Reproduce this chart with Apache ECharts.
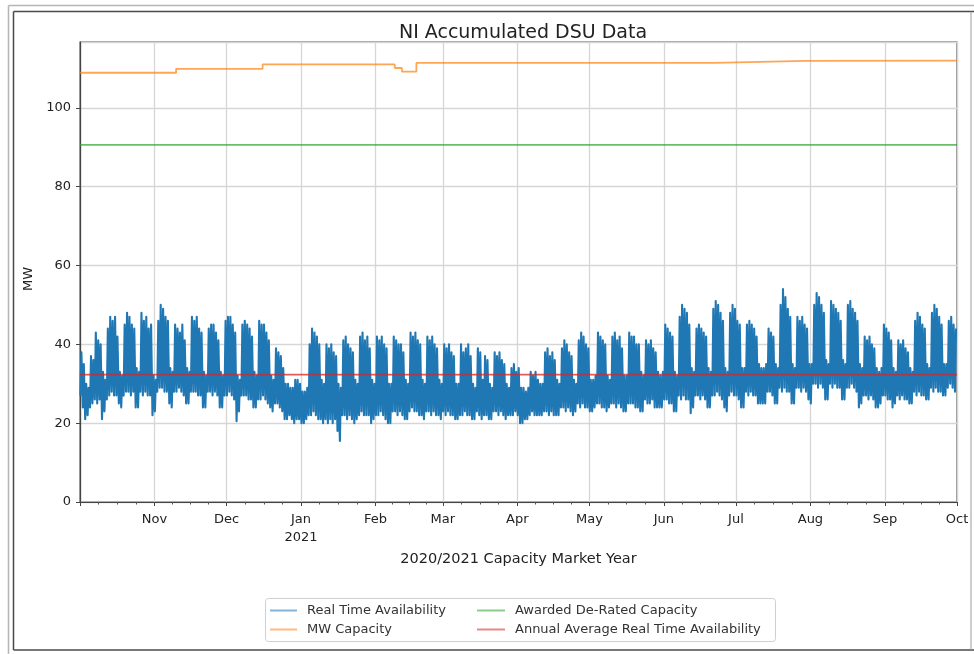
<!DOCTYPE html>
<html>
<head>
<meta charset="utf-8">
<script src="https://cdn.jsdelivr.net/npm/echarts@6/dist/echarts.min.js"></script>
<style>
  html, body { margin: 0; padding: 0; background: #fff; }
  #chart { width: 974px; height: 654px; }
</style>
</head>
<body>
<div id="chart"></div>
<script>
// Capacity market year: 1 Oct 2020 – 1 Oct 2021
const yearStart = [2020, 9, 1];
const yearEnd = [2021, 9, 1];

// Real time availability (MW): daily afternoon peaks, one row per week Mon..Sun,
// first row is the week of Monday 28 Sep 2020 (null = outside the year)
const dailyPeak = [
  [null, null, null, 38, 35, 30, 29],
  [37, 36, 43, 41, 40, 33, 31],
  [44, 47, 46, 47, 42, 33, 32],
  [45, 48, 47, 45, 44, 34, 33],
  [48, 46, 47, 44, 45, 32, 31],
  [46, 50, 49, 47, 46, 34, 33],
  [45, 44, 43, 45, 41, 34, 33],
  [47, 46, 47, 44, 43, 33, 32],
  [44, 45, 45, 43, 41, 33, 32],
  [46, 47, 47, 45, 43, 32, 31],
  [45, 46, 45, 44, 42, 33, 32],
  [46, 45, 45, 43, 41, 32, 31],
  [39, 38, 37, 34, 30, 30, 29],
  [29, 31, 31, 30, 28, 28, 29],
  [40, 44, 43, 42, 40, 31, 30],
  [40, 39, 40, 38, 37, 30, 29],
  [41, 42, 40, 39, 38, 31, 30],
  [42, 43, 41, 42, 39, 31, 30],
  [42, 41, 42, 40, 39, 30, 30],
  [42, 41, 40, 40, 38, 31, 30],
  [43, 42, 43, 41, 40, 31, 30],
  [42, 41, 42, 40, 39, 31, 30],
  [40, 39, 40, 38, 37, 30, 30],
  [40, 38, 39, 40, 37, 30, 29],
  [39, 38, 31, 37, 36, 30, 29],
  [38, 37, 38, 36, 35, 30, 29],
  [34, 35, 33, 34, 29, 29, 28],
  [29, 33, 32, 33, 31, 30, 30],
  [38, 39, 37, 38, 36, 31, 30],
  [39, 41, 40, 38, 37, 31, 30],
  [41, 43, 42, 40, 39, 31, 31],
  [32, 43, 42, 41, 40, 32, 31],
  [42, 43, 41, 42, 39, 32, 32],
  [43, 42, 42, 40, 40, 33, 32],
  [41, 40, 41, 39, 38, 33, 32],
  [33, 45, 44, 43, 42, 33, 32],
  [47, 50, 49, 48, 45, 34, 33],
  [44, 45, 44, 43, 42, 34, 33],
  [49, 51, 50, 48, 46, 34, 33],
  [48, 50, 49, 46, 45, 34, 34],
  [45, 46, 45, 44, 42, 35, 34],
  [34, 35, 44, 43, 42, 35, 34],
  [50, 54, 52, 49, 47, 35, 34],
  [47, 46, 47, 45, 44, 35, 35],
  [50, 53, 52, 50, 48, 36, 35],
  [51, 50, 49, 48, 46, 36, 35],
  [50, 51, 49, 48, 46, 35, 34],
  [42, 41, 42, 40, 39, 34, 33],
  [34, 45, 44, 43, 41, 34, 33],
  [41, 40, 41, 39, 38, 34, 33],
  [46, 48, 47, 45, 44, 35, 34],
  [48, 50, 49, 47, 45, 35, 35],
  [46, 47, 45, 44, null, null, null]
];

// Real time availability (MW): daily overnight troughs, same layout
const dailyTrough = [
  [null, null, null, 27, 24, 21, 22],
  [24, 25, 26, 25, 26, 21, 23],
  [26, 27, 28, 27, 27, 25, 24],
  [27, 28, 28, 27, 28, 24, 24],
  [28, 27, 28, 27, 27, 22, 23],
  [28, 29, 29, 28, 28, 25, 24],
  [28, 28, 29, 28, 27, 25, 25],
  [28, 28, 28, 27, 27, 24, 24],
  [28, 28, 27, 28, 27, 24, 24],
  [27, 27, 28, 27, 26, 20.5, 23],
  [27, 27, 27, 26, 26, 24, 24],
  [26, 26, 27, 26, 25, 24, 23],
  [25, 25, 24, 23, 21, 21, 22],
  [21, 20, 21, 21, 20, 20, 21],
  [22, 22, 23, 22, 21, 21, 20],
  [21, 20, 21, 20, 21, 18, 15.5],
  [22, 22, 21, 22, 21, 20, 21],
  [22, 23, 22, 22, 22, 20, 21],
  [22, 22, 23, 22, 21, 20, 20],
  [23, 23, 22, 23, 22, 21, 21],
  [23, 24, 23, 23, 22, 22, 21],
  [23, 23, 22, 23, 22, 22, 21],
  [23, 22, 23, 22, 22, 21, 21],
  [22, 22, 23, 22, 22, 21, 21],
  [23, 22, 21, 22, 22, 21, 21],
  [23, 23, 22, 23, 22, 21, 22],
  [22, 22, 23, 22, 20, 20, 21],
  [21, 22, 23, 22, 22, 22, 22],
  [23, 23, 22, 23, 22, 22, 22],
  [24, 24, 23, 24, 23, 22, 23],
  [25, 24, 25, 24, 24, 23, 23],
  [24, 25, 25, 24, 24, 23, 24],
  [25, 25, 24, 25, 24, 23, 23],
  [25, 25, 25, 24, 24, 23, 23],
  [26, 25, 25, 26, 24, 24, 24],
  [24, 26, 26, 25, 25, 23, 23],
  [27, 26, 27, 26, 26, 22.5, 24],
  [27, 27, 26, 27, 26, 24, 24],
  [27, 27, 28, 27, 26, 24, 23],
  [27, 28, 27, 27, 26, 24, 24],
  [28, 27, 28, 27, 27, 25, 25],
  [25, 25, 28, 28, 27, 25, 25],
  [29, 28, 29, 28, 28, 25, 25],
  [29, 29, 28, 29, 28, 26, 25],
  [30, 30, 29, 30, 29, 26, 26],
  [30, 29, 30, 29, 29, 26, 26],
  [29, 29, 30, 29, 28, 24, 25],
  [27, 27, 26, 27, 26, 24, 24],
  [25, 27, 27, 26, 26, 24, 25],
  [27, 26, 27, 26, 26, 25, 25],
  [28, 27, 28, 27, 27, 26, 26],
  [29, 28, 29, 28, 28, 27, 27],
  [29, 30, 29, 28, null, null, null]
];

// MW capacity: date from which each value applies
const capacityDates  = ['2020-10-01', '2020-11-10', '2020-12-16', '2021-02-09', '2021-02-12',
                        '2021-02-18', '2021-06-22', '2021-07-30', '2021-10-01'];
const capacityValues = [108.9, 109.9, 111.0, 110.1, 109.2, 111.4, 111.9, 112.0, 112.0];

const awardedDeRated = 90.6;
const annualAverage = 32.3;

const monthNames = ['Jan', 'Feb', 'Mar', 'Apr', 'May', 'Jun', 'Jul', 'Aug', 'Sep', 'Oct', 'Nov', 'Dec'];

// ---------------------------------------------------------------
const DAY = 86400000;
const HOUR = 3600000;
const t0 = new Date(yearStart[0], yearStart[1], yearStart[2]).getTime();
const t1 = new Date(yearEnd[0], yearEnd[1], yearEnd[2]).getTime();

function parseDate(s) {
  const p = s.split('-').map(Number);
  return new Date(p[0], p[1] - 1, p[2]).getTime();
}

// Availability trace: overnight trough then afternoon peak for each day
const rta = [];
dailyPeak.forEach((week, w) => {
  week.forEach((peak, i) => {
    if (peak === null) return;
    const ts = new Date(2020, 8, 28 + w * 7 + i).getTime();
    rta.push([ts + 4 * HOUR, dailyTrough[w][i]]);
    rta.push([ts + 14 * HOUR, peak]);
  });
});

const capacity = capacityDates.map((s, i) => [parseDate(s), capacityValues[i]]);
const awarded = [[t0, awardedDeRated], [t1, awardedDeRated]];
const average = [[t0, annualAverage], [t1, annualAverage]];

const font = 'DejaVu Sans';
const chart = echarts.init(document.getElementById('chart'), null, { renderer: 'canvas' });

const legendText = { fontFamily: font, fontSize: 13, color: '#333', padding: [0, 0, 0, 5] };

chart.setOption({
  animation: false,
  backgroundColor: '#fff',
  title: {
    text: 'NI Accumulated DSU Data',
    left: 518,
    top: 19,
    textAlign: 'center',
    textStyle: { fontFamily: font, fontSize: 19, fontWeight: 'normal', color: '#222' }
  },
  grid: { left: 80, right: 17, top: 42, bottom: 152, show: true, borderColor: '#444', borderWidth: 1.2 },
  xAxis: {
    type: 'time',
    min: t0,
    max: t1,
    splitNumber: 12,
    minInterval: 28 * DAY,
    maxInterval: 31 * DAY,
    name: '2020/2021 Capacity Market Year',
    nameLocation: 'middle',
    nameGap: 46,
    nameTextStyle: { fontFamily: font, fontSize: 14.5, color: '#222' },
    axisLine: { show: true, lineStyle: { color: '#444', width: 1.2 } },
    axisTick: { show: true, length: 4, lineStyle: { color: '#444' } },
    minorTick: { show: true, splitNumber: 4, length: 2.5, lineStyle: { color: '#555' } },
    splitLine: { show: true, lineStyle: { color: '#d6d6d6', width: 1.3 } },
    axisLabel: {
      fontFamily: font, fontSize: 13, color: '#222', margin: 9, lineHeight: 18,
      formatter: function (v) {
        if (v <= t0) return '';
        const dt = new Date(v);
        if (dt.getDate() !== 1) return '';
        const m = dt.getMonth();
        return m === 0 ? monthNames[m] + '\n' + dt.getFullYear() : monthNames[m];
      }
    }
  },
  yAxis: {
    type: 'value',
    min: 0,
    max: 116.7,
    interval: 20,
    name: 'MW',
    nameLocation: 'middle',
    nameGap: 38,
    nameTextStyle: { fontFamily: font, fontSize: 13, color: '#222', padding: [0, 0, 0, -14] },
    axisLine: { show: true, lineStyle: { color: '#444', width: 1.2 } },
    axisTick: { show: true, length: 4, lineStyle: { color: '#444' } },
    splitLine: { show: true, lineStyle: { color: '#d6d6d6', width: 1.3 } },
    axisLabel: { fontFamily: font, fontSize: 13, color: '#222', margin: 9, showMaxLabel: false }
  },
  legend: [
    {
      orient: 'vertical', left: 270, top: 604, padding: 0, itemGap: 6, itemWidth: 27, itemHeight: 2, icon: 'rect',
      data: ['Real Time Availability', 'MW Capacity'],
      itemStyle: { opacity: 0.55 },
      textStyle: legendText
    },
    {
      orient: 'vertical', left: 477, top: 604, padding: 0, itemGap: 6, itemWidth: 28, itemHeight: 2, icon: 'rect',
      data: ['Awarded De-Rated Capacity', 'Annual Average Real Time Availability'],
      itemStyle: { opacity: 0.55 },
      textStyle: legendText
    }
  ],
  graphic: [
    { type: 'rect', shape: { x: 265.5, y: 598.5, width: 510, height: 43, r: 3 },
      style: { fill: null, stroke: '#cfcfcf', lineWidth: 1 }, z: 0 },
    { type: 'line', shape: { x1: 8.5, y1: 5.5, x2: 8.5, y2: 654 }, style: { stroke: '#b5b5b5', lineWidth: 1.5 } },
    { type: 'line', shape: { x1: 8.5, y1: 5.5, x2: 974, y2: 5.5 }, style: { stroke: '#b5b5b5', lineWidth: 1.5 } },
    { type: 'line', shape: { x1: 13.5, y1: 11.5, x2: 13.5, y2: 650 }, style: { stroke: '#4a4a4a', lineWidth: 1.5 } },
    { type: 'line', shape: { x1: 13.5, y1: 11.5, x2: 974, y2: 11.5 }, style: { stroke: '#4a4a4a', lineWidth: 1.5 } },
    { type: 'line', shape: { x1: 13.5, y1: 650, x2: 974, y2: 650 }, style: { stroke: '#4a4a4a', lineWidth: 1.5 } },
    { type: 'line', shape: { x1: 971, y1: 11.5, x2: 971, y2: 650 }, style: { stroke: '#9a9a9a', lineWidth: 1 } }
  ],
  series: [
    {
      name: 'Real Time Availability', type: 'line', data: rta, showSymbol: false, symbol: 'none',
      sampling: null, color: '#1f77b4',
      lineStyle: { width: 2.1, color: '#1f77b4', join: 'round' }, z: 2
    },
    {
      name: 'MW Capacity', type: 'line', data: capacity, step: 'end', showSymbol: false, symbol: 'none',
      color: '#ff7f0e', lineStyle: { width: 1.8, color: '#ff7f0e', opacity: 0.7 }, z: 3
    },
    {
      name: 'Awarded De-Rated Capacity', type: 'line', data: awarded, showSymbol: false, symbol: 'none',
      color: '#2ca02c', lineStyle: { width: 1.8, color: '#2ca02c', opacity: 0.7 }, z: 3
    },
    {
      name: 'Annual Average Real Time Availability', type: 'line', data: average, showSymbol: false, symbol: 'none',
      color: '#d62728', lineStyle: { width: 1.8, color: '#d62728', opacity: 0.75 }, z: 4
    }
  ]
});
</script>
</body>
</html>
